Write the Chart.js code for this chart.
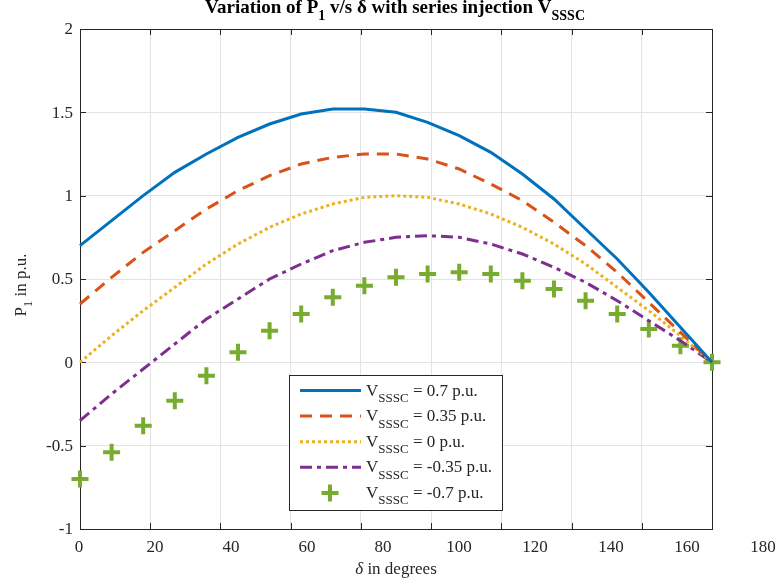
<!DOCTYPE html>
<html>
<head>
<meta charset="utf-8">
<script src="https://cdn.jsdelivr.net/npm/chart.js@4/dist/chart.umd.min.js"></script>
<style>
  html, body { margin: 0; padding: 0; background: #ffffff; }
  #wrap { width: 781px; height: 586px; }
</style>
</head>
<body>
<div id="wrap"><canvas id="c" width="781" height="586"></canvas></div>
<script>
// ---- data ----
const delta = [0, 9, 18, 27, 36, 45, 54, 63, 72, 81, 90, 99, 108, 117, 126, 135, 144, 153, 162, 171, 180];
const pV070 = [0.70, 0.85, 1.00, 1.14, 1.25, 1.35, 1.43, 1.49, 1.52, 1.52, 1.50, 1.44, 1.36, 1.26, 1.13, 0.98, 0.80, 0.62, 0.42, 0.21, 0.00];
const pV035 = [0.35, 0.51, 0.66, 0.79, 0.92, 1.03, 1.12, 1.19, 1.23, 1.25, 1.25, 1.22, 1.16, 1.07, 0.97, 0.84, 0.70, 0.54, 0.36, 0.18, 0.00];
const pV000 = [0.00, 0.16, 0.31, 0.45, 0.59, 0.71, 0.81, 0.89, 0.95, 0.99, 1.00, 0.99, 0.95, 0.89, 0.81, 0.71, 0.59, 0.45, 0.31, 0.16, 0.00];
const pVm035 = [-0.35, -0.19, -0.04, 0.11, 0.26, 0.38, 0.50, 0.59, 0.67, 0.72, 0.75, 0.76, 0.75, 0.71, 0.65, 0.57, 0.48, 0.37, 0.25, 0.13, 0.00];
const pVm070 = [-0.70, -0.54, -0.38, -0.23, -0.08, 0.06, 0.19, 0.29, 0.39, 0.46, 0.51, 0.53, 0.54, 0.53, 0.49, 0.44, 0.37, 0.29, 0.20, 0.10, 0.00];
const vsssc = ['0.7', '0.35', '0', '-0.35', '-0.7'];
const xTickValues = [0, 20, 40, 60, 80, 100, 120, 140, 160, 180];
const yTickValues = [-1, -0.5, 0, 0.5, 1, 1.5, 2];
const titleParts = [['Variation of P', false], ['1', true], [' v/s \u03B4 with series injection V', false], ['SSSC', true]];
const yLabelParts = [['P', false], ['1', true], [' in p.u.', false]];
const xLabelText = ' in degrees';

// ---- styles ----
const COLORS = ['#0072BD', '#D95319', '#EDB120', '#7E2F8E', '#77AC30'];
const DASHES = [[], [12, 8], [3, 3], [12, 5, 4, 5], null];
const SERIF = '"Liberation Serif", "DejaVu Serif", serif';
const AX = '#262626';

const seriesList = [pV070, pV035, pV000, pVm035, pVm070];
const pts = arr => delta.map((d, i) => ({ x: d, y: arr[i] }));

const datasets = seriesList.map((arr, k) => {
  const isMarker = k === 4;
  return {
    label: 'V_SSSC = ' + vsssc[k] + ' p.u.',
    data: pts(arr),
    borderColor: COLORS[k],
    backgroundColor: COLORS[k],
    borderWidth: isMarker ? 4 : 3,
    borderDash: isMarker ? [] : DASHES[k],
    showLine: !isMarker,
    pointStyle: 'cross',
    pointRadius: isMarker ? 8.5 : 0,
    pointBorderWidth: 4,
    pointBorderColor: COLORS[k],
    tension: 0,
    clip: isMarker ? false : 4,
    borderCapStyle: 'butt'
  };
});

function drawRich(ctx, parts, x, y, align, size, bold) {
  const base = (bold ? 'bold ' : '') + size + 'px ' + SERIF;
  const sub = (bold ? 'bold ' : '') + Math.round(size * 0.76) + 'px ' + SERIF;
  let total = 0;
  parts.forEach(p => { ctx.font = p[1] ? sub : base; total += ctx.measureText(p[0]).width; });
  let cx = align === 'center' ? x - total / 2 : x;
  ctx.textAlign = 'left';
  ctx.textBaseline = 'alphabetic';
  parts.forEach(p => {
    ctx.font = p[1] ? sub : base;
    ctx.fillText(p[0], cx, p[1] ? y + size * 0.38 : y);
    cx += ctx.measureText(p[0]).width;
  });
}

const matlabPlugin = {
  id: 'matlab',
  beforeDatasetsDraw(chart) {
    const { ctx, chartArea: a, scales } = chart;
    ctx.save();
    ctx.strokeStyle = AX;
    ctx.lineWidth = 1;
    ctx.strokeRect(a.left + 0.5, a.top + 0.5, a.right - a.left, a.bottom - a.top);
    const tl = 6;
    ctx.beginPath();
    xTickValues.forEach(v => {
      const px = Math.round(scales.x.getPixelForValue(v)) + 0.5;
      ctx.moveTo(px, a.bottom); ctx.lineTo(px, a.bottom - tl);
      ctx.moveTo(px, a.top); ctx.lineTo(px, a.top + tl);
    });
    yTickValues.forEach(v => {
      const py = Math.round(scales.y.getPixelForValue(v)) + 0.5;
      ctx.moveTo(a.left, py); ctx.lineTo(a.left + tl, py);
      ctx.moveTo(a.right, py); ctx.lineTo(a.right - tl, py);
    });
    ctx.stroke();
    ctx.restore();
  },
  afterDatasetsDraw(chart) {
    const { ctx, chartArea: a, scales } = chart;
    ctx.save();
    ctx.fillStyle = AX;
    // y tick labels
    ctx.font = '17px ' + SERIF;
    ctx.textAlign = 'right';
    ctx.textBaseline = 'middle';
    yTickValues.forEach(v => {
      ctx.fillText(String(v), a.left - 7, scales.y.getPixelForValue(v) + 1);
    });
    // x tick labels (placed as in the reference figure)
    ctx.textAlign = 'center';
    xTickValues.forEach(v => {
      const px = scales.x.getPixelForValue(v * 1.0823) - 1;
      ctx.fillText(String(v), px, a.bottom + 19);
    });
    // x axis label
    ctx.font = 'italic 17px ' + SERIF;
    const dW = ctx.measureText('\u03B4').width;
    ctx.font = '17px ' + SERIF;
    const rW = ctx.measureText(xLabelText).width;
    const cx = (a.left + a.right) / 2 - (dW + rW) / 2;
    ctx.textAlign = 'left';
    ctx.textBaseline = 'alphabetic';
    ctx.font = 'italic 17px ' + SERIF;
    ctx.fillText('\u03B4', cx, a.bottom + 45);
    ctx.font = '17px ' + SERIF;
    ctx.fillText(xLabelText, cx + dW, a.bottom + 45);
    // y axis label
    ctx.save();
    ctx.translate(26, (a.top + a.bottom) / 2 + 6);
    ctx.rotate(-Math.PI / 2);
    drawRich(ctx, yLabelParts, 0, 0, 'center', 17, false);
    ctx.restore();
    // title
    ctx.fillStyle = '#000000';
    drawRich(ctx, titleParts, (a.left + a.right) / 2 - 1, 13, 'center', 19, true);

    // legend
    const lx = 289.5, ly = 375.5, lw = 213, lh = 135;
    ctx.fillStyle = '#ffffff';
    ctx.fillRect(lx, ly, lw, lh);
    ctx.strokeStyle = AX;
    ctx.lineWidth = 1;
    ctx.strokeRect(lx, ly, lw, lh);
    const rowY0 = 390.5, rowH = 25.6;
    datasets.forEach((ds, k) => {
      const ry = rowY0 + k * rowH;
      ctx.strokeStyle = COLORS[k];
      if (k < 4) {
        ctx.lineWidth = 3;
        ctx.setLineDash(DASHES[k]);
        ctx.beginPath();
        ctx.moveTo(300, ry); ctx.lineTo(361, ry);
        ctx.stroke();
        ctx.setLineDash([]);
      } else {
        ctx.lineWidth = 4;
        ctx.beginPath();
        ctx.moveTo(330 - 8.5, ry); ctx.lineTo(330 + 8.5, ry);
        ctx.moveTo(330, ry - 8.5); ctx.lineTo(330, ry + 8.5);
        ctx.stroke();
      }
      ctx.fillStyle = AX;
      drawRich(ctx, [['V', false], ['SSSC', true], [' = ' + vsssc[k] + ' p.u.', false]], 366, ry + 5, 'left', 17, false);
    });
    ctx.restore();
  }
};

new Chart(document.getElementById('c'), {
  type: 'scatter',
  data: { datasets },
  options: {
    responsive: false,
    animation: false,
    devicePixelRatio: 1,
    layout: { padding: { left: 80, right: 69, top: 29, bottom: 57 } },
    plugins: { legend: { display: false }, title: { display: false }, tooltip: { enabled: false } },
    scales: {
      x: {
        type: 'linear', min: 0, max: 180,
        ticks: { display: false, stepSize: 20 },
        grid: { color: '#e3e3e3', lineWidth: 1, drawTicks: false },
        border: { display: false },
        afterFit: s => { s.height = 0; }
      },
      y: {
        type: 'linear', min: -1, max: 2,
        ticks: { display: false, stepSize: 0.5 },
        grid: { color: '#e3e3e3', lineWidth: 1, drawTicks: false },
        border: { display: false },
        afterFit: s => { s.width = 0; }
      }
    }
  },
  plugins: [matlabPlugin]
});
</script>
</body>
</html>
